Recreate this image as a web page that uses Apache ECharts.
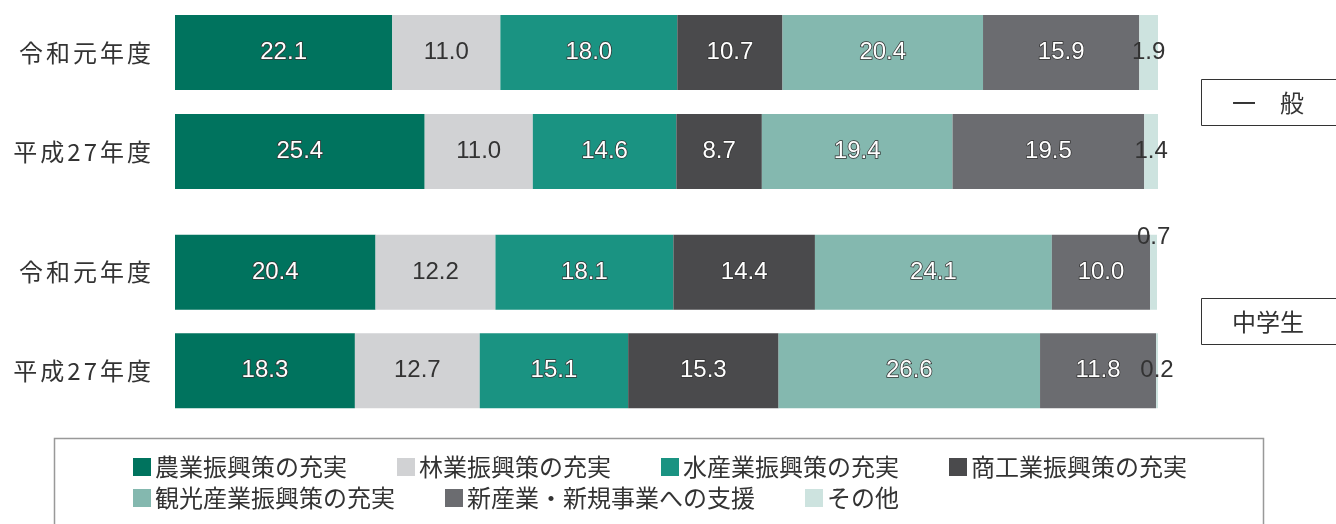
<!DOCTYPE html>
<html><head><meta charset="utf-8">
<script src="https://cdn.jsdelivr.net/npm/echarts@6/dist/echarts.min.js"></script>
<style>html,body{margin:0;padding:0;background:#fff}#c{width:1336px;height:524px}</style>
</head><body><div id="c"></div>
<script>
const categories = ['令和元年度', '平成27年度'];
const seriesNames = ['農業振興策の充実', '林業振興策の充実', '水産業振興策の充実', '商工業振興策の充実', '観光産業振興策の充実', '新産業・新規事業への支援', 'その他'];
const colors = ['#00735E', '#D1D2D4', '#1A9382', '#4A4A4C', '#84B8AF', '#6B6C70', '#CDE3DF'];
// 一般
const ippan = [
  [22.1, 25.4],
  [11.0, 11.0],
  [18.0, 14.6],
  [10.7, 8.7],
  [20.4, 19.4],
  [15.9, 19.5],
  [1.9, 1.4]
];
// 中学生
const chugakusei = [
  [20.4, 18.3],
  [12.2, 12.7],
  [18.1, 15.1],
  [14.4, 15.3],
  [24.1, 26.6],
  [10.0, 11.8],
  [0.7, 0.2]
];
const groupLabels = ['一　般', '中学生'];

const chart = echarts.init(document.getElementById('c'));
const lightIdx = [1, 6];
function labelFor(i) {
  const light = lightIdx.indexOf(i) >= 0;
  return {
    show: true, position: 'inside',
    fontFamily: 'Liberation Sans, Arial, sans-serif', fontSize: 24,
    color: light ? '#333' : '#fff',
    textBorderColor: light ? '#fff' : '#333',
    textBorderWidth: light ? 0 : 1.5,
    formatter: p => p.value.toFixed(1)
  };
}
const series = [];
[ippan, chugakusei].forEach((grp, g) => {
  grp.forEach((vals, i) => {
    series.push({
      name: seriesNames[i], type: 'bar', stack: 's' + g,
      xAxisIndex: g, yAxisIndex: g, barWidth: 75,
      itemStyle: { color: colors[i] },
      label: labelFor(i),
      data: vals.map(v => {
        if (i === 6 && g === 1 && v < 0.5) return { value: v };
        if (i === 6 && g === 1) return { value: v, label: { position: 'insideTop', offset: [0, -14] } };
        return { value: v };
      }),
      emphasis: { disabled: true }
    });
  });
});
const spaced = s => {
  const ch = Array.from(s);
  return ch.map((c, k) => k < ch.length - 1 ? '{c|' + c + '}' : '{e|' + c + '}').join('');
};
const yAx = (g) => ({
  type: 'category', gridIndex: g, data: categories, inverse: true,
  axisLine: { show: false }, axisTick: { show: false },
  axisLabel: {
    color: '#333', fontSize: 24, margin: 24, fontFamily: 'Noto Sans CJK JP',
    formatter: spaced,
    rich: {
      c: { fontSize: 24, color: '#333', fontFamily: 'Noto Sans CJK JP', padding: [0, 3, 0, 0] },
      e: { fontSize: 24, color: '#333', fontFamily: 'Noto Sans CJK JP' }
    }
  }
});
const xAx = (g) => ({ type: 'value', gridIndex: g, min: 0, max: 100, show: false });
const legendCommon = {
  itemWidth: 18, itemHeight: 18, itemGap: 50, icon: 'rect',
  textStyle: { fontSize: 24, color: '#333', fontFamily: 'Noto Sans CJK JP', padding: [0, 0, 0, -1] },
  selectedMode: false, padding: 0
};
chart.setOption({
  animation: false,
  grid: [
    { left: 175, right: 178, top: 3, height: 198 },
    { left: 175, right: 178, top: 223, height: 197 }
  ],
  xAxis: [xAx(0), xAx(1)],
  yAxis: [yAx(0), yAx(1)],
  legend: [
    Object.assign({ left: 133, top: 455, data: seriesNames.slice(0, 4) }, legendCommon),
    Object.assign({ left: 133, top: 486, data: seriesNames.slice(4) }, legendCommon)
  ],
  graphic: [
    { type: 'rect', shape: { x: 54.5, y: 438.5, width: 1209, height: 100 }, style: { fill: 'none', stroke: '#999', lineWidth: 1.5 } },
    { type: 'rect', shape: { x: 1201.5, y: 79.5, width: 150, height: 46 }, style: { fill: '#fff', stroke: '#333', lineWidth: 1 } },
    { type: 'text', x: 1268, y: 103, style: { text: groupLabels[0], fontSize: 24, fill: '#333', fontFamily: 'Noto Sans CJK JP', align: 'center', verticalAlign: 'middle' } },
    { type: 'rect', shape: { x: 1201.5, y: 298.5, width: 150, height: 46 }, style: { fill: '#fff', stroke: '#333', lineWidth: 1 } },
    { type: 'text', x: 1268, y: 322, style: { text: groupLabels[1], fontSize: 24, fill: '#333', fontFamily: 'Noto Sans CJK JP', align: 'center', verticalAlign: 'middle' } }
  ],
  series: series
});
</script></body></html>
